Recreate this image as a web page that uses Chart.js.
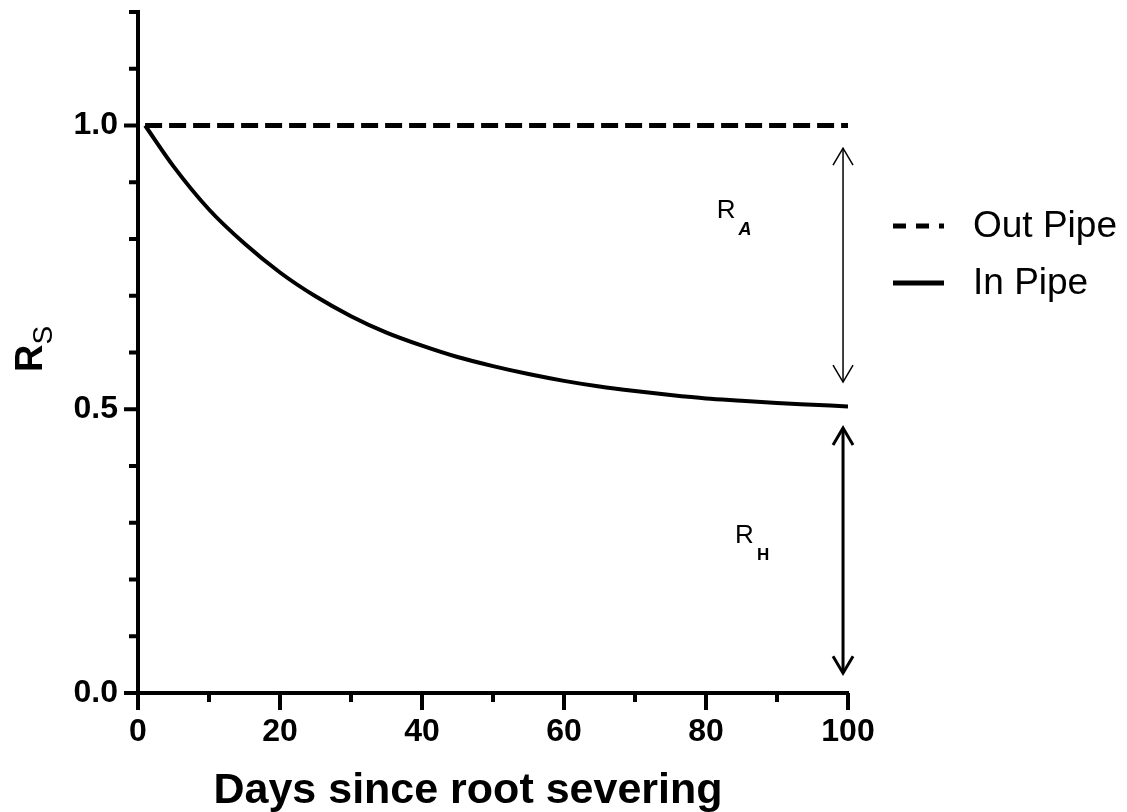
<!DOCTYPE html>
<html>
<head>
<meta charset="utf-8">
<title>Rs vs days since root severing</title>
<script src="https://cdn.jsdelivr.net/npm/chart.js@4.4.0/dist/chart.umd.min.js"></script>
<style>
  body { margin: 0; background: #fff; }
</style>
</head>
<body>
<canvas id="rsChart" width="1127" height="812"></canvas>
<script>
// values
var days = [1, 5, 10, 15, 20, 25, 30, 35, 40, 45, 50, 55, 60, 65, 70, 75, 80, 85, 90, 95, 100];
var inPipe = [1.000, 0.928, 0.852, 0.792, 0.741, 0.699, 0.664, 0.635, 0.612, 0.592, 0.576,
              0.562, 0.550, 0.540, 0.532, 0.525, 0.519, 0.515, 0.511, 0.508, 0.505];
var outDays = [1, 100];
var outPipe = [1.0, 1.0];

var xTickValues = [0, 20, 40, 60, 80, 100];
var xTickLabels = ['0', '20', '40', '60', '80', '100'];
var yTickValues = [0, 0.5, 1.0];
var yTickLabels = ['0.0', '0.5', '1.0'];

// double arrows (R values) at the right edge
var arrowDay = 99.3;
var raArrow = [0.960, 0.548];
var rhArrow = [0.467, 0.035];

var FONT = 'Arial, "Liberation Sans", sans-serif';

function toXY(xs, ys) {
    var out = [];
    for (var i = 0; i < xs.length; i++) out.push({ x: xs[i], y: ys[i] });
    return out;
}

// unlabelled ticks keep an empty label so their tick marks still get drawn
function pickLabel(values, labels, v) {
    for (var i = 0; i < values.length; i++) {
        if (Math.abs(values[i] - v) < 1e-6) return labels[i];
    }
    return '';
}

function drawArrow(ctx, x, yTop, yBot, lw) {
    ctx.lineWidth = lw;
    ctx.beginPath();
    ctx.moveTo(x, yTop);
    ctx.lineTo(x, yBot);
    ctx.stroke();
    ctx.beginPath();
    ctx.moveTo(x - 10, yTop + 17);
    ctx.lineTo(x, yTop);
    ctx.lineTo(x + 10, yTop + 17);
    ctx.moveTo(x - 10, yBot - 17);
    ctx.lineTo(x, yBot);
    ctx.lineTo(x + 10, yBot - 17);
    ctx.stroke();
}

function subLabel(ctx, main, sub, x, y, mainFont, subFont) {
    ctx.textAlign = 'left';
    ctx.textBaseline = 'alphabetic';
    ctx.font = mainFont;
    ctx.fillText(main, x, y);
    var w = ctx.measureText(main).width;
    ctx.font = subFont;
    ctx.fillText(sub, x + w + 3, y + 17);
}

var extras = {
    id: 'extras',
    afterDraw: function (chart) {
        var ctx = chart.ctx;
        var xs = chart.scales.x, ys = chart.scales.y, area = chart.chartArea;
        ctx.save();
        ctx.strokeStyle = '#000';
        ctx.fillStyle = '#000';
        ctx.lineCap = 'butt';

        // tick marks, long on labelled ticks
        ctx.lineWidth = 4;
        ys.ticks.forEach(function (t) {
            var py = ys.getPixelForValue(t.value);
            var major = Math.round(t.value * 10) % 5 === 0;
            ctx.beginPath();
            ctx.moveTo(area.left, py);
            ctx.lineTo(area.left - (major ? 14 : 9), py);
            ctx.stroke();
        });
        xs.ticks.forEach(function (t) {
            var px = xs.getPixelForValue(t.value);
            var major = Math.round(t.value) % 20 === 0;
            ctx.beginPath();
            ctx.moveTo(px, area.bottom);
            ctx.lineTo(px, area.bottom + (major ? 17 : 9));
            ctx.stroke();
        });

        // R_A and R_H arrows
        var ax = xs.getPixelForValue(arrowDay);
        drawArrow(ctx, ax, ys.getPixelForValue(raArrow[0]), ys.getPixelForValue(raArrow[1]), 1.5);
        drawArrow(ctx, ax, ys.getPixelForValue(rhArrow[0]), ys.getPixelForValue(rhArrow[1]), 3);

        subLabel(ctx, 'R', 'A', xs.getPixelForValue(81.5), ys.getPixelForValue(0.837),
                 '26px ' + FONT, 'italic bold 18px ' + FONT);
        subLabel(ctx, 'R', 'H', xs.getPixelForValue(84.1), ys.getPixelForValue(0.264),
                 '26px ' + FONT, 'bold 17px ' + FONT);

        // legend
        var lx = area.right + 45;
        ctx.lineWidth = 5;
        ctx.setLineDash([13, 10]);
        ctx.beginPath();
        ctx.moveTo(lx, 226);
        ctx.lineTo(lx + 51, 226);
        ctx.stroke();
        ctx.setLineDash([]);
        ctx.beginPath();
        ctx.moveTo(lx, 283);
        ctx.lineTo(lx + 51, 283);
        ctx.stroke();
        ctx.font = '37px ' + FONT;
        ctx.textAlign = 'left';
        ctx.textBaseline = 'middle';
        ctx.fillText('Out Pipe', lx + 80, 227);
        ctx.fillText('In Pipe', lx + 80, 284);

        // x axis title
        ctx.font = 'bold 43px ' + FONT;
        ctx.textAlign = 'center';
        ctx.textBaseline = 'alphabetic';
        ctx.fillText('Days since root severing', (area.left + area.right) / 2 - 25, 803);

        // y axis title R with subscript S
        ctx.translate(42, 372);
        ctx.rotate(-Math.PI / 2);
        ctx.textAlign = 'left';
        ctx.font = 'bold 38px ' + FONT;
        ctx.fillText('R', 0, 0);
        var rw = ctx.measureText('R').width;
        ctx.font = '28px ' + FONT;
        ctx.fillText('S', rw, 10);

        ctx.restore();
    }
};

var ctx = document.getElementById('rsChart').getContext('2d');
var rsChart = new Chart(ctx, {
    type: 'line',
    data: {
        datasets: [{
            label: 'Out Pipe',
            data: toXY(outDays, outPipe),
            borderColor: '#000',
            borderWidth: 5,
            borderDash: [17, 7],
            pointRadius: 0,
            fill: false
        }, {
            label: 'In Pipe',
            data: toXY(days, inPipe),
            borderColor: '#000',
            borderWidth: 4,
            pointRadius: 0,
            cubicInterpolationMode: 'monotone',
            fill: false
        }]
    },
    options: {
        responsive: false,
        animation: false,
        layout: { padding: { top: 12, right: 279, left: 0, bottom: 0 } },
        plugins: {
            legend: { display: false },
            tooltip: { enabled: false }
        },
        scales: {
            x: {
                type: 'linear',
                min: 0,
                max: 100,
                grid: { display: false, drawTicks: false },
                border: { display: true, color: '#000', width: 4 },
                ticks: {
                    stepSize: 10,
                    autoSkip: false,
                    maxRotation: 0,
                    padding: 20,
                    color: '#000',
                    font: { family: FONT, size: 32, weight: 'bold' },
                    callback: function (v) { return pickLabel(xTickValues, xTickLabels, v); }
                },
                afterFit: function (s) { s.height = 119; }
            },
            y: {
                min: 0,
                max: 1.2,
                grid: { display: false, drawTicks: false },
                border: { display: true, color: '#000', width: 4 },
                ticks: {
                    stepSize: 0.1,
                    autoSkip: false,
                    padding: 20,
                    color: '#000',
                    font: { family: FONT, size: 32, weight: 'bold' },
                    callback: function (v) { return pickLabel(yTickValues, yTickLabels, v); }
                },
                afterFit: function (s) { s.width = 138; s.paddingTop = 0; }
            }
        }
    },
    plugins: [extras]
});
</script>
</body>
</html>
